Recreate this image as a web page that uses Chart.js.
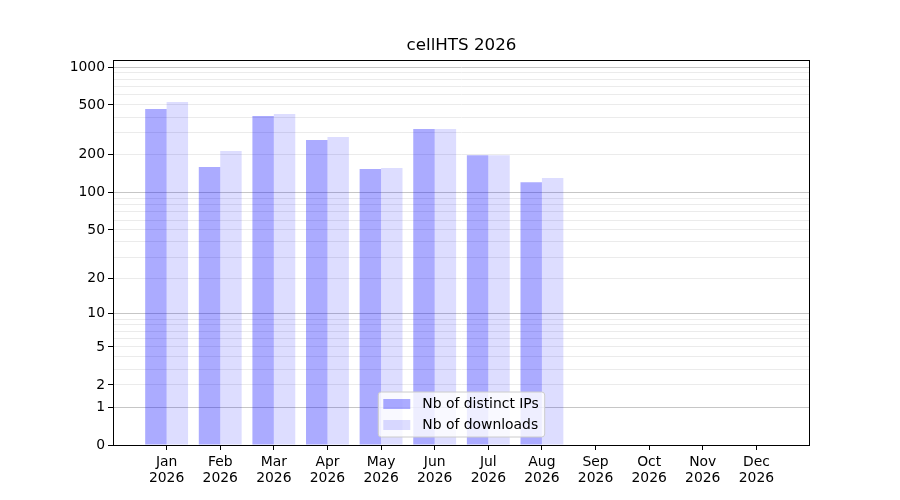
<!DOCTYPE html>
<html><head><meta charset="utf-8">
<script src="https://cdn.jsdelivr.net/npm/chart.js@4.4.1/dist/chart.umd.min.js"></script>
<style>html,body{margin:0;padding:0;background:#fff}</style>
</head><body>
<canvas id="c" width="900" height="500"></canvas>
<script>
const months = ['Jan','Feb','Mar','Apr','May','Jun','Jul','Aug','Sep','Oct','Nov','Dec'];
const year = '2026';
const distinctIPs = [464, 160, 408, 263, 154, 321, 199, 121, 0, 0, 0, 0];
const downloads   = [527, 215, 423, 278, 157, 321, 199, 131, 0, 0, 0, 0];
const yTickValues = [0,1,2,3,4,5,6,7,8,9,10,20,30,40,50,60,70,80,90,100,200,300,400,500,600,700,800,900,1000];
const yTickLabelled = [0,1,2,5,10,20,50,100,200,500,1000];
const yMajor = [1,10,100,1000];
const yMaxValue = 1137;

const FONT = '"DejaVu Sans", sans-serif';
const f = v => (v === null ? null : Math.log10(1 + v));

// one empty slot on each side gives matplotlib-like margins
const labels = [''].concat(months.map(m => [m, year]), ['']);
const pad = arr => [null].concat(arr.map(f), [null]);

const titleCenterPlugin = {
  id: 'titleCenter',
  afterLayout(chart) {
    const t = chart.titleBlock, a = chart.chartArea;
    if (t) { t.left = a.left; t.right = a.right; t.width = a.right - a.left; }
  }
};

const framePlugin = {
  id: 'frame',
  afterDatasetsDraw(chart) {
    const a = chart.chartArea, ctx = chart.ctx;
    ctx.save();
    ctx.strokeStyle = '#000';
    ctx.lineWidth = 1;
    ctx.strokeRect(Math.round(a.left) + 0.5, Math.round(a.top) + 0.5,
                   Math.round(a.right - a.left) - 1, Math.round(a.bottom - a.top));
    ctx.restore();
  }
};

const legendPlugin = {
  id: 'boxLegend',
  afterDraw(chart) {
    const ctx = chart.ctx, a = chart.chartArea;
    const ds = chart.data.datasets;
    ctx.save();
    ctx.font = '13.9px ' + FONT;
    const tw = Math.max(...ds.map(d => ctx.measureText(d.label).width));
    const w = 5 + 27 + 12 + tw + 6;
    const h = 45;
    const x = (a.left + a.right) / 2 - w / 2;
    const y = a.bottom - 8 - h;
    const r = 3;
    ctx.beginPath();
    ctx.moveTo(x + r, y);
    ctx.arcTo(x + w, y, x + w, y + h, r);
    ctx.arcTo(x + w, y + h, x, y + h, r);
    ctx.arcTo(x, y + h, x, y, r);
    ctx.arcTo(x, y, x + w, y, r);
    ctx.closePath();
    ctx.fillStyle = 'rgba(255,255,255,0.8)';
    ctx.fill();
    ctx.strokeStyle = '#cccccc';
    ctx.lineWidth = 1;
    ctx.stroke();
    ds.forEach((d, i) => {
      const cy = y + 12 + i * 21;
      ctx.fillStyle = d.backgroundColor;
      ctx.fillRect(x + 5, cy - 5, 27, 10);
      ctx.fillStyle = '#000';
      ctx.textBaseline = 'middle';
      ctx.textAlign = 'left';
      ctx.fillText(d.label, x + 44, cy);
    });
    ctx.restore();
  }
};

new Chart(document.getElementById('c'), {
  type: 'bar',
  data: {
    labels: labels,
    datasets: [
      { label: 'Nb of distinct IPs', data: pad(distinctIPs), backgroundColor: 'rgba(0,0,255,0.33)', borderWidth: 0 },
      { label: 'Nb of downloads', data: pad(downloads), backgroundColor: 'rgba(0,0,255,0.134)', borderWidth: 0 }
    ]
  },
  options: {
    responsive: false,
    animation: false,
    devicePixelRatio: 1,
    categoryPercentage: 0.8,
    barPercentage: 1.0,
    layout: { padding: { left: 0, right: 90, top: 0, bottom: 0 } },
    plugins: {
      legend: { display: false },
      tooltip: { enabled: false },
      title: {
        display: true,
        text: 'cellHTS 2026',
        color: '#000',
        font: { family: FONT, size: 16.7, weight: 'normal', lineHeight: 1.2 },
        padding: { top: 36, bottom: 4 }
      }
    },
    scales: {
      x: {
        type: 'category',
        offset: false,
        grid: {
          offset: false,
          drawOnChartArea: false,
          tickLength: 5,
          tickColor: c => (c.index === 0 || c.index === labels.length - 1) ? 'rgba(0,0,0,0)' : '#000'
        },
        border: { display: false },
        ticks: {
          autoSkip: false, maxRotation: 0, minRotation: 0, padding: 4,
          color: '#000',
          font: { family: FONT, size: 13.9, lineHeight: 1.15 }
        },
        afterFit: s => { s.height = 55; }
      },
      y: {
        type: 'linear',
        bounds: 'data',
        min: 0,
        max: f(yMaxValue),
        afterBuildTicks: s => { s.ticks = yTickValues.map(v => ({ value: f(v) })); },
        grid: {
          tickLength: 5,
          color: c => {
            const v = yTickValues[c.index];
            if (v === 0) return 'rgba(0,0,0,0)';
            return yMajor.includes(v) ? '#c6c6c6' : '#ebebeb';
          },
          tickColor: c => yTickLabelled.includes(yTickValues[c.index]) ? '#000' : 'rgba(0,0,0,0)'
        },
        border: { display: false },
        ticks: {
          autoSkip: false,
          padding: 3,
          color: '#000',
          font: { family: FONT, size: 13.9 },
          callback: (val, i) => yTickLabelled.includes(yTickValues[i]) ? String(yTickValues[i]) : ''
        },
        afterFit: s => { s.width = 113; }
      }
    }
  },
  plugins: [titleCenterPlugin, framePlugin, legendPlugin]
});
</script>
</body></html>
